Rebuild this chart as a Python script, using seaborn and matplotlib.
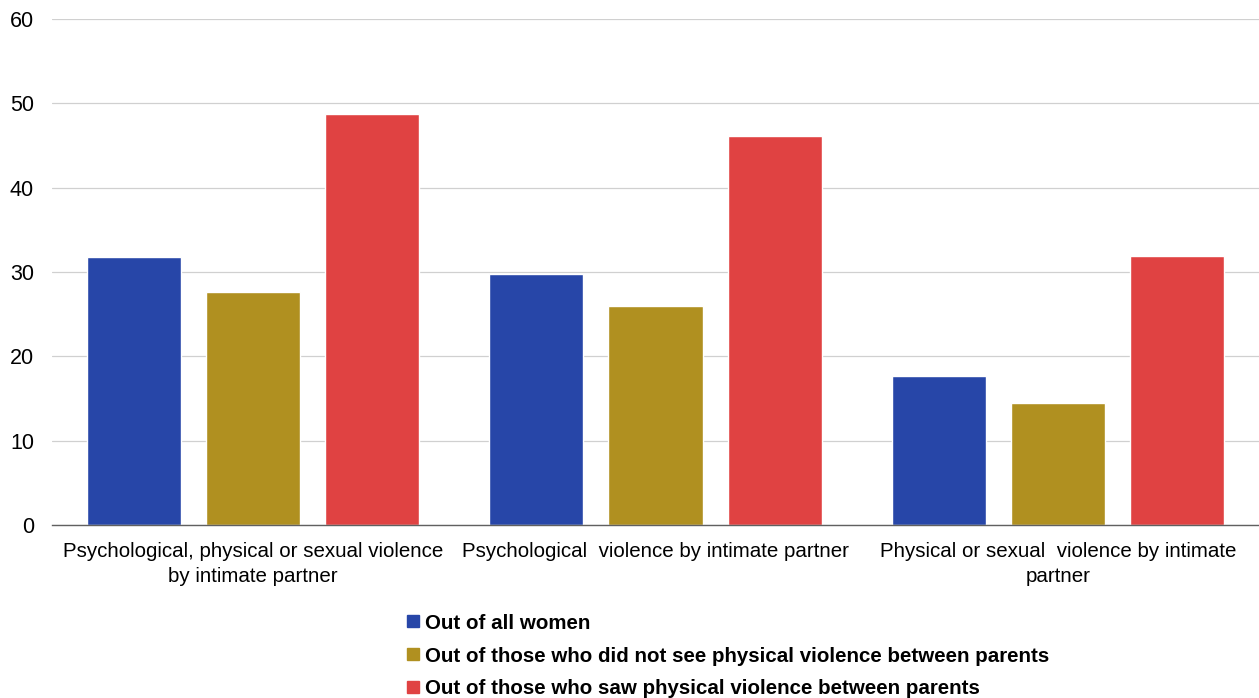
import pandas as pd
import matplotlib.pyplot as plt
import seaborn as sns
from matplotlib.lines import Line2D

# Data
categories = [
    'Psychological, physical or sexual violence\nby intimate partner',
    'Psychological  violence by intimate partner',
    'Physical or sexual  violence by intimate\npartner',
]
series = [
    'Out of all women',
    'Out of those who did not see physical violence between parents',
    'Out of those who saw physical violence between parents',
]
all_women = [31.8, 29.8, 17.7]
did_not_see = [27.6, 26.0, 14.5]
saw = [48.7, 46.1, 31.9]
colors = ['#2746A8', '#B09020', '#E04242']

rows = []
for name, vals in zip(series, [all_women, did_not_see, saw]):
    for cat, v in zip(categories, vals):
        rows.append({'category': cat, 'series': name, 'value': v})
df = pd.DataFrame(rows)

sns.set_theme(style='white')
plt.rcParams['font.family'] = ['Liberation Sans', 'DejaVu Sans']
plt.rcParams['text.color'] = 'black'

fig = plt.figure(figsize=(12.59, 6.98), dpi=100)
ax = fig.add_axes([0.0413, 0.2479, 0.9587, 0.7249])

sns.barplot(data=df, x='category', y='value', hue='series', order=categories,
            hue_order=series, palette=colors, width=0.888, gap=0.21,
            saturation=1, legend=False, ax=ax)

ax.set_xlim(-0.5, 2.5)
ax.set_ylim(0, 60)
ax.set_yticks(range(0, 61, 10))
ax.yaxis.grid(True, color='#d0d0d0', linewidth=0.9)
ax.set_axisbelow(True)
ax.set_xlabel('')
ax.set_ylabel('')
for side in ['top', 'right', 'left']:
    ax.spines[side].set_visible(False)
ax.spines['bottom'].set_color('#606060')
ax.spines['bottom'].set_linewidth(1.0)

# category labels centred, tick marks at group boundaries
ax.tick_params(axis='x', which='major', length=0, labelsize=14.8, pad=12,
               labelcolor='black')
ax.set_xticks([-0.5, 0.5, 1.5], minor=True)
ax.tick_params(axis='x', which='minor', length=8, color='#606060', width=1.0)
ax.tick_params(axis='y', length=0, labelsize=15.5, pad=13, labelcolor='black')
for lbl in ax.get_xticklabels():
    lbl.set_linespacing(1.4)

handles = [Line2D([0], [0], marker='s', linestyle='', markersize=9,
                  markerfacecolor=c, markeredgecolor=c) for c in colors]
leg = fig.legend(handles, series, loc='upper left', bbox_to_anchor=(0.3235, 0.121),
                 frameon=False, prop={'weight': 'bold', 'size': 14.8},
                 handlelength=0.6, handletextpad=0.25, labelspacing=0.68,
                 borderaxespad=0, borderpad=0)
for t in leg.get_texts():
    t.set_color('black')

fig.savefig('out.png', dpi=100)
